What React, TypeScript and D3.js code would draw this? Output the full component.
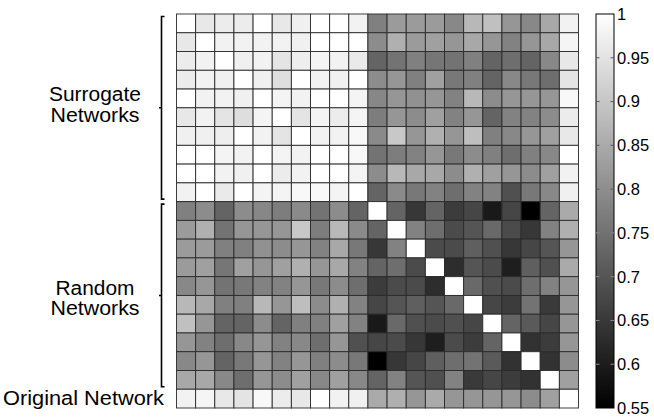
import * as d3 from "d3";
import { useEffect, useRef } from "react";

// similarity matrix, rows/cols: 10 surrogate, 10 random, 1 original
const surrogateRows: number[][] = [
  [1, 0.959, 0.966, 0.966, 1, 0.959, 0.974, 1, 1, 0.977, 0.776, 0.824, 0.824, 0.824, 0.79, 0.875, 0.889, 0.815, 0.79, 0.846, 0.977],
  [0.959, 1, 0.977, 0.977, 0.977, 0.977, 0.974, 1, 1, 1, 0.797, 0.861, 0.824, 0.832, 0.815, 0.846, 0.815, 0.779, 0.815, 0.846, 0.982],
  [0.966, 0.977, 1, 0.974, 0.977, 0.952, 0.97, 0.981, 0.977, 0.963, 0.726, 0.753, 0.776, 0.758, 0.753, 0.776, 0.726, 0.744, 0.726, 0.79, 0.959],
  [0.966, 0.977, 0.974, 1, 0.974, 0.942, 1, 0.977, 0.974, 1, 0.797, 0.815, 0.776, 0.832, 0.762, 0.776, 0.726, 0.79, 0.762, 0.744, 0.952],
  [1, 0.977, 0.977, 0.974, 1, 0.981, 0.977, 1, 1, 0.981, 0.788, 0.815, 0.806, 0.815, 0.779, 0.875, 0.797, 0.815, 0.815, 0.815, 0.988],
  [0.959, 0.977, 0.952, 0.942, 0.981, 1, 0.952, 0.981, 0.966, 0.981, 0.771, 0.815, 0.797, 0.832, 0.779, 0.815, 0.726, 0.779, 0.779, 0.797, 0.966],
  [0.974, 0.974, 0.97, 1, 0.977, 0.952, 1, 0.977, 0.977, 0.988, 0.794, 0.903, 0.815, 0.861, 0.815, 0.885, 0.776, 0.79, 0.815, 0.832, 0.959],
  [1, 1, 0.981, 0.977, 1, 0.981, 0.977, 1, 1, 0.988, 0.753, 0.771, 0.779, 0.815, 0.762, 0.797, 0.776, 0.744, 0.776, 0.79, 1],
  [1, 1, 0.977, 0.974, 1, 0.966, 0.977, 1, 1, 0.981, 0.797, 0.875, 0.846, 0.846, 0.797, 0.861, 0.832, 0.815, 0.797, 0.832, 0.977],
  [0.977, 1, 0.963, 1, 0.981, 0.981, 0.988, 0.988, 0.981, 1, 0.726, 0.794, 0.762, 0.779, 0.744, 0.779, 0.779, 0.691, 0.762, 0.79, 0.974],
];

const randomRows: number[][] = [
  [0.776, 0.797, 0.726, 0.797, 0.788, 0.771, 0.794, 0.753, 0.797, 0.726, 1, 0.726, 0.647, 0.726, 0.656, 0.674, 0.594, 0.674, 0.55, 0.726, 0.85],
  [0.824, 0.861, 0.753, 0.815, 0.815, 0.815, 0.903, 0.771, 0.875, 0.794, 0.726, 1, 0.779, 0.744, 0.682, 0.7, 0.735, 0.682, 0.647, 0.779, 0.859],
  [0.824, 0.824, 0.776, 0.776, 0.806, 0.797, 0.815, 0.779, 0.846, 0.762, 0.647, 0.779, 1, 0.682, 0.682, 0.718, 0.691, 0.647, 0.674, 0.7, 0.815],
  [0.824, 0.832, 0.758, 0.832, 0.815, 0.832, 0.861, 0.815, 0.846, 0.779, 0.726, 0.744, 0.682, 1, 0.629, 0.7, 0.682, 0.603, 0.718, 0.691, 0.85],
  [0.79, 0.815, 0.753, 0.762, 0.779, 0.779, 0.815, 0.762, 0.797, 0.744, 0.656, 0.682, 0.682, 0.629, 1, 0.735, 0.691, 0.682, 0.744, 0.779, 0.815],
  [0.875, 0.846, 0.776, 0.776, 0.875, 0.815, 0.885, 0.797, 0.861, 0.779, 0.674, 0.7, 0.718, 0.7, 0.735, 1, 0.674, 0.656, 0.753, 0.652, 0.815],
  [0.889, 0.815, 0.726, 0.726, 0.797, 0.726, 0.776, 0.776, 0.832, 0.779, 0.594, 0.735, 0.691, 0.682, 0.691, 0.674, 1, 0.726, 0.709, 0.674, 0.815],
  [0.815, 0.779, 0.744, 0.79, 0.815, 0.779, 0.79, 0.744, 0.815, 0.691, 0.674, 0.682, 0.647, 0.603, 0.682, 0.656, 0.726, 1, 0.638, 0.656, 0.815],
  [0.79, 0.815, 0.726, 0.762, 0.815, 0.779, 0.815, 0.776, 0.797, 0.762, 0.55, 0.647, 0.674, 0.718, 0.744, 0.753, 0.709, 0.638, 1, 0.638, 0.797],
  [0.846, 0.846, 0.79, 0.744, 0.815, 0.797, 0.832, 0.79, 0.832, 0.79, 0.726, 0.779, 0.7, 0.691, 0.779, 0.652, 0.674, 0.656, 0.638, 1, 0.832],
];

const originalRow: number[] = [
  0.977, 0.982, 0.959, 0.952, 0.988, 0.966, 0.959, 1, 0.977, 0.974, 0.85, 0.859, 0.815, 0.85, 0.815, 0.815, 0.815, 0.815, 0.797, 0.832, 1,
];

const groupNames = [
  ["Surrogate", "Networks"],
  ["Random", "Networks"],
];
const originalName = "Original Network";

const colorTicks = [1, 0.95, 0.9, 0.85, 0.8, 0.75, 0.7, 0.65, 0.6, 0.55];
const colorDomain = [0.55, 1];

const FONT = "'Liberation Sans', Arial, Helvetica, sans-serif";

export default function App() {
  const ref = useRef<SVGSVGElement>(null);

  useEffect(() => {
    const matrix = [...surrogateRows, ...randomRows, originalRow];
    const n = matrix.length;

    const svg = d3.select(ref.current);
    svg.selectAll("*").remove();

    const width = 654;
    const height = 418;
    svg.attr("width", width).attr("height", height);

    const grid = { left: 176.5, right: 578.5, top: 14, bottom: 408 };

    const x = d3.scaleBand<number>().domain(d3.range(n)).range([grid.left, grid.right]);
    const y = d3.scaleBand<number>().domain(d3.range(n)).range([grid.top, grid.bottom]);

    const color = d3
      .scaleLinear<string>()
      .domain(colorDomain)
      .range(["#000000", "#ffffff"])
      .clamp(true);

    const cells = matrix.flatMap((row, i) => row.map((v, j) => ({ i, j, v })));

    // heatmap cells
    svg
      .append("g")
      .selectAll("rect")
      .data(cells)
      .enter()
      .append("rect")
      .attr("x", d => x(d.j)!)
      .attr("y", d => y(d.i)!)
      .attr("width", x.bandwidth())
      .attr("height", y.bandwidth())
      .attr("fill", d => color(d.v))
      .attr("stroke", "#2a2a2a")
      .attr("stroke-width", 0.9);

    // colorbar
    const cb = { left: 596, right: 614 };
    const cy = d3.scaleLinear().domain(colorDomain).range([grid.bottom, grid.top]);

    const defs = svg.append("defs");
    const grad = defs
      .append("linearGradient")
      .attr("id", "cbar")
      .attr("x1", 0)
      .attr("y1", 1)
      .attr("x2", 0)
      .attr("y2", 0);
    grad.append("stop").attr("offset", "0%").attr("stop-color", color(colorDomain[0]));
    grad.append("stop").attr("offset", "100%").attr("stop-color", color(colorDomain[1]));

    svg
      .append("rect")
      .attr("x", cb.left)
      .attr("y", grid.top)
      .attr("width", cb.right - cb.left)
      .attr("height", grid.bottom - grid.top)
      .attr("fill", "url(#cbar)")
      .attr("stroke", "#000")
      .attr("stroke-width", 1);

    const tickG = svg.append("g");
    colorTicks.forEach(t => {
      const ty = cy(t);
      const tc = t > 0.78 ? "#555" : "#888";
      if (t !== 1 && t !== 0.55) {
        tickG.append("line").attr("x1", cb.left).attr("x2", cb.left + 3.5).attr("y1", ty).attr("y2", ty).attr("stroke", tc);
        tickG.append("line").attr("x1", cb.right - 3.5).attr("x2", cb.right).attr("y1", ty).attr("y2", ty).attr("stroke", tc);
      }
      tickG
        .append("text")
        .attr("x", cb.right + 3)
        .attr("y", ty)
        .attr("dy", "0.36em")
        .style("font-family", FONT)
        .style("font-size", "16.5px")
        .attr("fill", "#000")
        .text(String(t));
    });

    // group braces and labels
    const groups = [
      { from: 0, to: 9, names: groupNames[0], offsets: [-6.5, 14.5] },
      { from: 10, to: 19, names: groupNames[1], offsets: [0, 20] },
    ];
    const bx = 161.5;
    groups.forEach(g => {
      const top = y(g.from)! + 2.5;
      const bot = y(g.to)! + y.bandwidth() - 2.5;
      const mid = (top + bot) / 2;
      svg
        .append("path")
        .attr("d", `M${bx + 3},${top}H${bx}V${bot}H${bx + 3}M${bx},${mid}H${bx - 2.5}`)
        .attr("fill", "none")
        .attr("stroke", "#000")
        .attr("stroke-width", 1.6);

      g.names.forEach((name, k) => {
        svg
          .append("text")
          .attr("x", 95)
          .attr("y", mid + g.offsets[k])
          .attr("text-anchor", "middle")
          .style("font-family", FONT)
          .style("font-size", "19.5px")
          .attr("textLength", name === "Random" ? 79 : name === "Surrogate" ? 92 : 89)
          .attr("lengthAdjust", "spacingAndGlyphs")
          .text(name);
      });
    });

    svg
      .append("text")
      .attr("x", 3)
      .attr("y", y(n - 1)! + y.bandwidth() - 3)
      .style("font-family", FONT)
      .style("font-size", "20.5px")
      .attr("textLength", 161)
      .attr("lengthAdjust", "spacingAndGlyphs")
      .text(originalName);
  }, []);

  return (
    <div style={{ position: "absolute", left: 0, top: 0 }}>
      <svg ref={ref} style={{ display: "block", background: "#fff" }} />
    </div>
  );
}
